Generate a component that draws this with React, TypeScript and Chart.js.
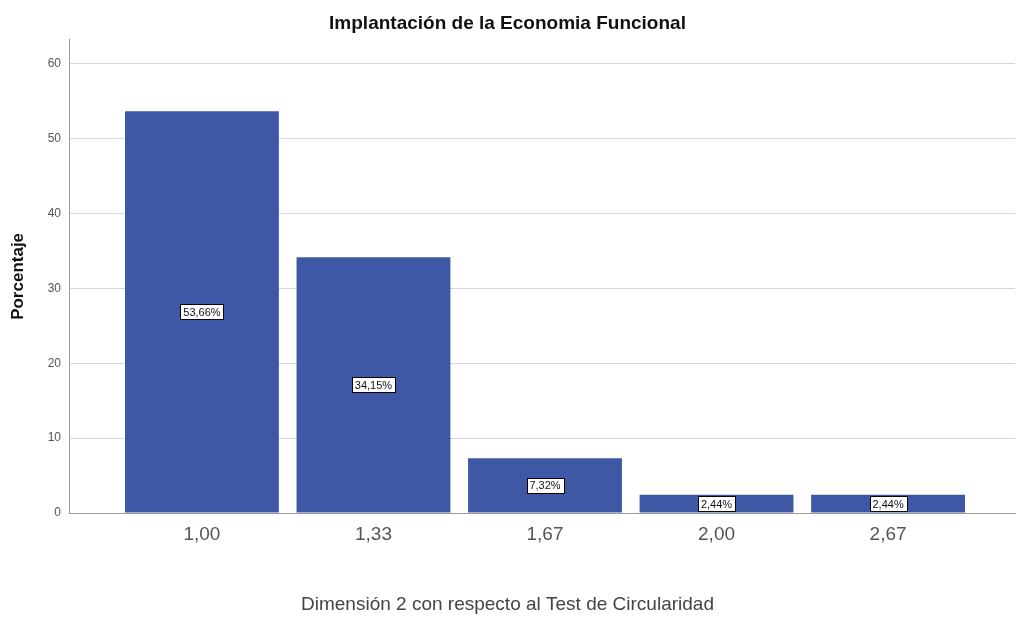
import React, { useEffect, useRef } from "react";
import { Chart, registerables } from "chart.js";

Chart.register(...registerables);

const categories = ["1,00", "1,33", "1,67", "2,00", "2,67"];
const percentages = [53.66, 34.15, 7.32, 2.44, 2.44];
const barLabels = ["53,66%", "34,15%", "7,32%", "2,44%", "2,44%"];
const yTicks = [0, 10, 20, 30, 40, 50, 60];

const chartTitle = "Implantación de la Economia Funcional";
const xTitle = "Dimensión 2 con respecto al Test de Circularidad";
const yTitle = "Porcentaje";

const FONT = "'Liberation Sans', Arial, sans-serif";

const labelBoxPlugin = {
  id: "labelBoxes",
  afterDatasetsDraw(chart: any) {
    const ctx = chart.ctx;
    const meta = chart.getDatasetMeta(0);
    ctx.save();
    ctx.font = "11px " + FONT;
    ctx.textAlign = "center";
    ctx.textBaseline = "middle";
    meta.data.forEach((bar: any, i: number) => {
      const txt = barLabels[i];
      const cx = bar.x;
      const cy = (bar.y + bar.base) / 2;
      const w = Math.round(ctx.measureText(txt).width + 6);
      const h = 15;
      const x0 = Math.round(cx - w / 2) + 0.5;
      const y0 = Math.round(cy - h / 2) + 0.5;
      ctx.fillStyle = "#ffffff";
      ctx.fillRect(x0, y0, w, h);
      ctx.strokeStyle = "#000000";
      ctx.lineWidth = 1;
      ctx.strokeRect(x0, y0, w, h);
      ctx.fillStyle = "#111111";
      ctx.fillText(txt, cx, cy + 1);
    });
    ctx.restore();
  },
};

export default function App() {
  const ref = useRef<HTMLCanvasElement>(null);

  useEffect(() => {
    document.body.style.margin = "0";
    if (!ref.current) return;
    const chart = new Chart(ref.current, {
      type: "bar",
      data: {
        datasets: [
          {
            data: percentages.map((v, i) => ({ x: i, y: v })),
            backgroundColor: "#3e58a6",
            borderWidth: 0,
            categoryPercentage: 1,
            barPercentage: 0.897,
          },
        ],
      },
      options: {
        animation: false,
        responsive: false,
        maintainAspectRatio: false,
        layout: { padding: { left: 0, right: 1, top: 0, bottom: 0 } },
        plugins: {
          legend: { display: false },
          tooltip: { enabled: false },
          title: {
            display: true,
            text: chartTitle,
            color: "#111111",
            font: { family: FONT, size: 19, weight: "bold" },
            padding: { top: 12, bottom: 5 },
          },
          subtitle: {
            display: true,
            position: "bottom",
            text: xTitle,
            color: "#444444",
            font: { family: FONT, size: 19 },
            padding: { top: 0, bottom: 4 },
          },
        },
        scales: {
          x: {
            type: "linear",
            min: -0.775,
            max: 4.74,
            offset: false,
            afterBuildTicks: (scale: any) => {
              scale.ticks = categories.map((_, i) => ({ value: i }));
            },
            afterFit: (scale: any) => {
              scale.height = 80.2;
            },
            grid: { display: false, drawTicks: false },
            border: { display: true, color: "#9a9a9a", width: 1 },
            ticks: {
              autoSkip: false,
              maxRotation: 0,
              padding: 10,
              color: "#555555",
              font: { family: FONT, size: 19 },
              callback: (v: any) => categories[Math.round(Number(v))] ?? "",
            },
          },
          y: {
            min: 0,
            max: 63.2,
            afterBuildTicks: (scale: any) => {
              scale.ticks = yTicks.map((v) => ({ value: v }));
            },
            afterFit: (scale: any) => {
              scale.width = 69;
            },
            grid: { color: "#d6d6d6", drawTicks: false, lineWidth: 1 },
            border: { display: true, color: "#9a9a9a", width: 1 },
            ticks: {
              padding: 8,
              color: "#555555",
              font: { family: FONT, size: 12 },
            },
            title: {
              display: true,
              text: yTitle,
              color: "#111111",
              font: { family: FONT, size: 17, weight: "bold" },
              padding: { top: 8, bottom: 0 },
            },
          },
        },
      },
      plugins: [labelBoxPlugin],
    } as any);
    return () => chart.destroy();
  }, []);

  return (
    <div style={{ position: "absolute", left: 0, top: 0, width: 1016, height: 620, background: "#fff" }}>
      <canvas ref={ref} width={1016} height={620} style={{ width: 1016, height: 620 }} />
    </div>
  );
}
